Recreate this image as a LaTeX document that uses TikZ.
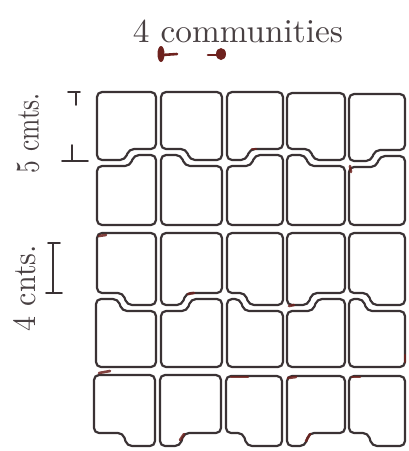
\documentclass[tikz,border=0pt]{standalone}
\usepackage{graphicx}
\definecolor{ink}{RGB}{58,50,52}
\definecolor{txtink}{RGB}{72,64,66}
\definecolor{redink}{RGB}{110,34,30}
\newcommand\cellbox[8]{%
  \draw[cellline] (#1,#3) -- (#5,#3) -- ({#5+4},#4) -- (#2,#4) -- (#2,#7)
     -- ({#8+4},#7) -- (#8,#6) -- (#1,#6) -- cycle;}
\tikzset{
  cellline/.style={draw=ink, line width=2.2pt, rounded corners=5pt, line join=round},
  lbl/.style={text=txtink, inner sep=0pt},
  marker/.style={draw=ink, line width=1.8pt, line cap=round},
  smudge/.style={draw=redink, line width=2.6pt, line cap=round, opacity=0.85},
}
\begin{document}
\begin{tikzpicture}[x=1pt,y=-1pt]
\useasboundingbox (0,0) rectangle (409,451);
\fill[white] (0,0) rectangle (409,451);
% title
\node[lbl, anchor=base] (title) at (238,42) {\resizebox{210pt}{!}{4 communities}};
% red markers under title
\fill[redink] (161,54) ellipse (3.5 and 8);
\draw[redink, line width=2.6pt, line cap=round] (162,55) -- (177,54);
\fill[redink] (221,54) ellipse (5 and 6);
\draw[redink, line width=2.6pt, line cap=round] (208,55) -- (219,55);
% left labels
\node[lbl, rotate=90] (l5) at (28,133) {\resizebox{80pt}{22pt}{5 cmts.}};
\node[lbl, rotate=90] (l4) at (25,288) {\resizebox{86pt}{22pt}{4 cnts.}};
% dimension markers
\coordinate (m1a) at (68,92); \coordinate (m1b) at (80,92);
\draw[marker] (m1a) -- (m1b); \draw[marker] (76,92) -- (76,105);
\coordinate (m2a) at (62,161); \coordinate (m2b) at (88,161);
\draw[marker] (m2a) -- (m2b); \draw[marker] (72,145) -- (72,161);
\coordinate (m3t) at (53,243); \coordinate (m3b) at (53,293);
\draw[marker, line width=1.4pt] (m3t) -- (m3b);
\draw[marker] (48,243) -- (60,243);
\draw[marker] (46,293) -- (62,293);
% ---------- cells: {xl}{xr}{tL}{tR}{ts}{bL}{bR}{bs}
% row 1
\cellbox{97}{156}{92}{92}{120}{160}{149}{125}
\cellbox{161}{222}{92}{92}{190}{149}{160}{186}
\cellbox{227}{283}{92}{92}{250}{160}{149}{246}
\cellbox{287}{345}{93}{93}{310}{149}{160}{310}
\cellbox{349}{405}{94}{94}{370}{161}{150}{371}
% row 2
\cellbox{97}{156}{166}{155}{130}{225}{225}{130}
\cellbox{161}{222}{155}{166}{181}{225}{225}{181}
\cellbox{227}{283}{166}{155}{251}{225}{225}{251}
\cellbox{287}{345}{155}{166}{305}{225}{225}{305}
\cellbox{349}{405}{167}{156}{376}{225}{225}{376}
% row 3
\cellbox{97}{156}{233}{233}{120}{293}{305}{123}
\cellbox{161}{222}{233}{233}{182}{305}{293}{182}
\cellbox{227}{283}{233}{233}{245}{293}{305}{245}
\cellbox{287}{345}{233}{233}{308}{305}{293}{308}
\cellbox{349}{405}{233}{233}{368}{293}{305}{368}
% row 4
\cellbox{96}{156}{299}{311}{118}{367}{367}{118}
\cellbox{161}{222}{311}{299}{187}{367}{367}{187}
\cellbox{227}{283}{299}{311}{240}{367}{367}{240}
\cellbox{287}{345}{311}{299}{313}{367}{367}{313}
\cellbox{349}{405}{299}{311}{363}{367}{367}{363}
% row 5
\cellbox{94}{155}{375}{375}{120}{433}{446}{123}
\cellbox{160}{221}{375}{375}{180}{446}{433}{180}
\cellbox{226}{282}{376}{376}{243}{433}{446}{243}
\cellbox{287}{345}{376}{376}{305}{446}{433}{305}
\cellbox{349}{405}{376}{376}{368}{433}{446}{368}
% red ink smudges
\draw[smudge] (99,373) -- (110,371);
\draw[smudge] (231,377) -- (248,377);
\draw[smudge] (288,378) -- (296,377);
\draw[smudge] (352,377) -- (360,377);
\draw[smudge] (180,440) -- (184,434);
\draw[smudge] (306,441) -- (310,434);
\draw[smudge] (252,149) -- (256,149);
\draw[smudge] (350,166) -- (351,172);
\draw[smudge] (188,294) -- (194,293);
\draw[smudge] (289,306) -- (294,305);
\draw[smudge] (99,236) -- (106,235);
\draw[smudge] (405,355) -- (405,362);
\end{tikzpicture}
\end{document}
